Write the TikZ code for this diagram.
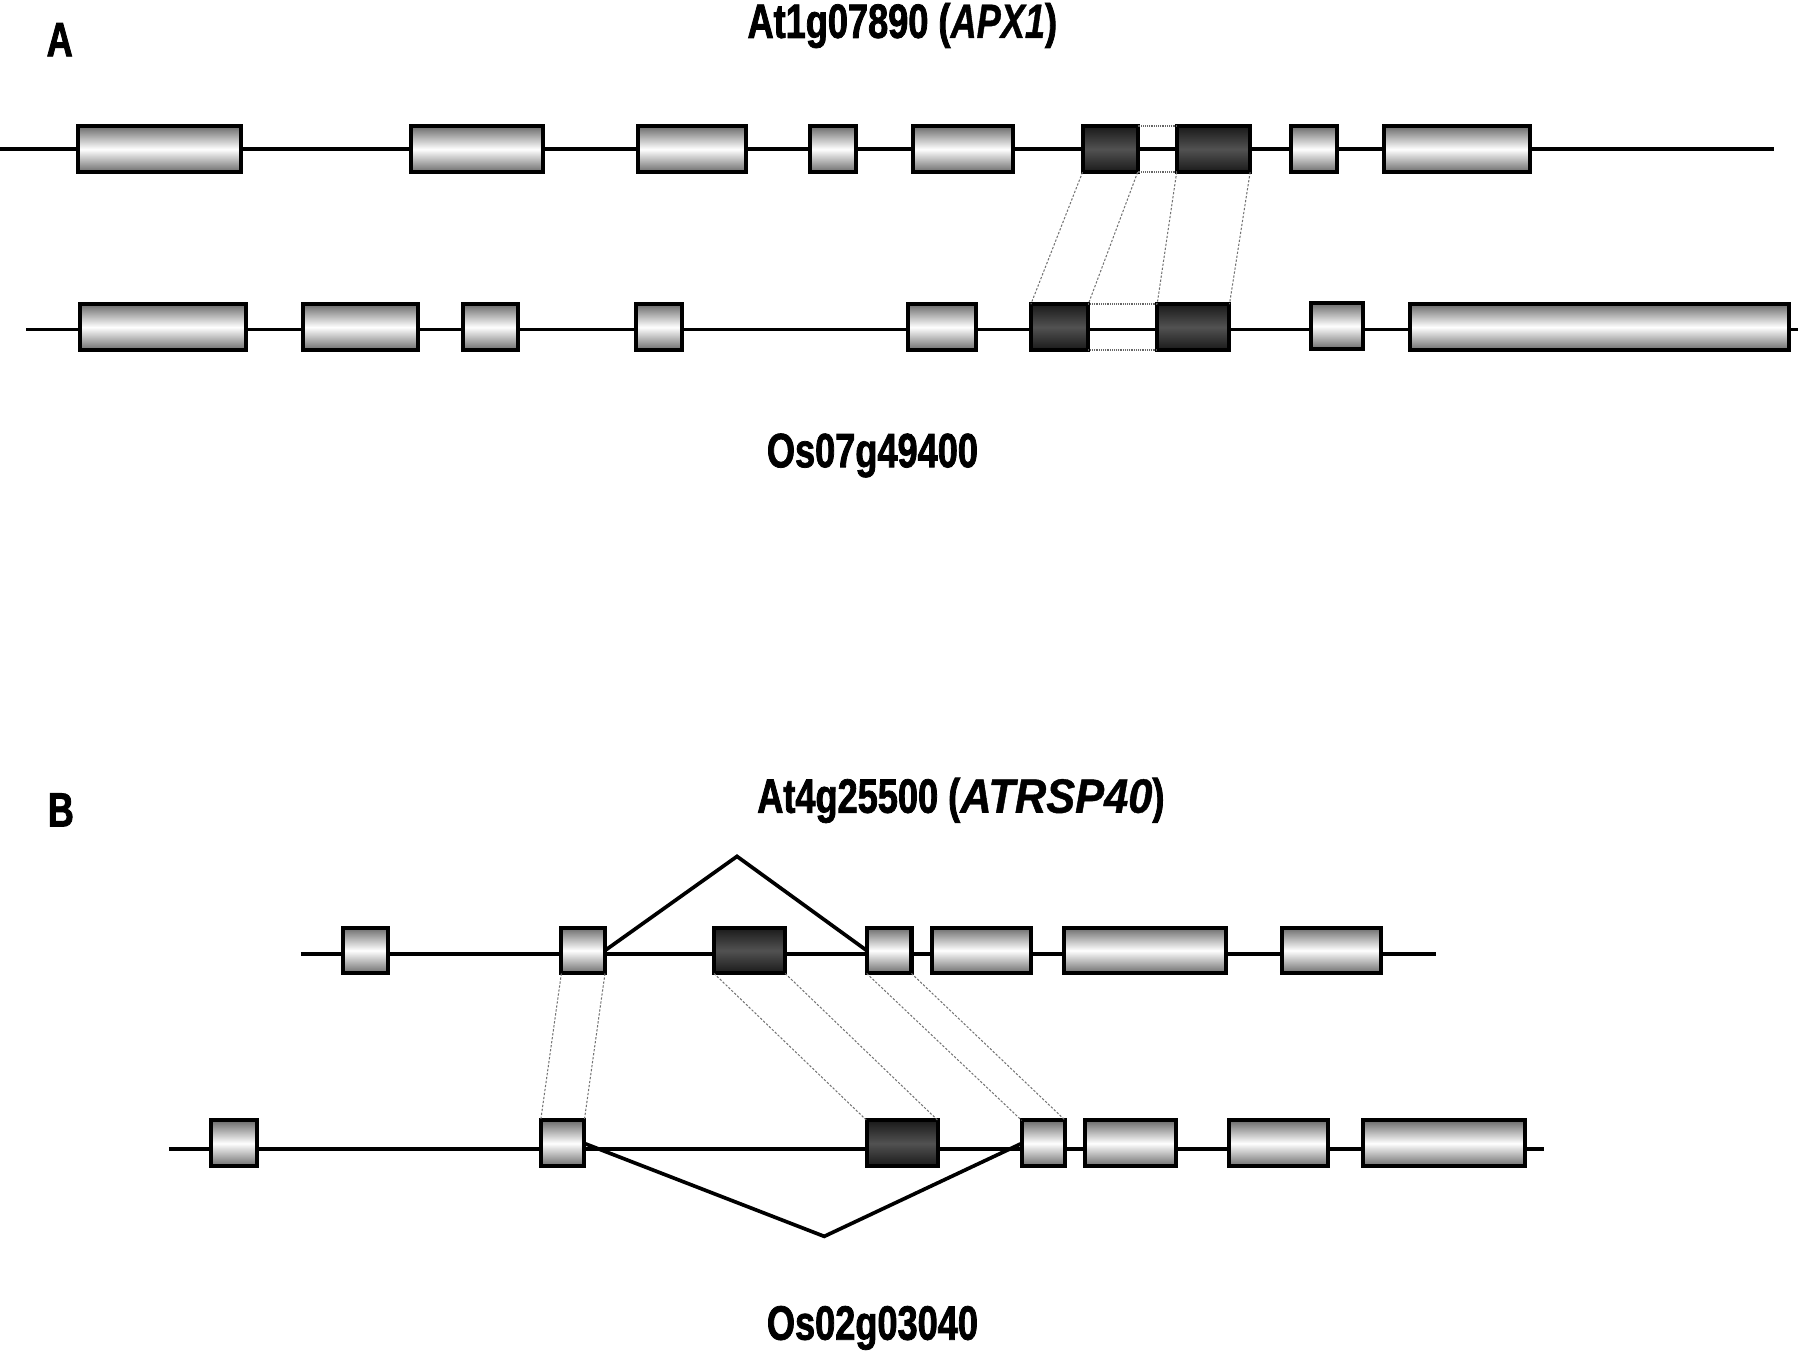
\documentclass[tikz,border=0pt]{standalone}
\usepackage{fontspec}
\usepackage{graphicx}
\newfontfamily\labfont[FakeStretch=0.75, BoldFeatures={FakeBold=1.6}, BoldItalicFeatures={FakeBold=0.8}]{Liberation Sans}
\begin{document}
\begin{tikzpicture}[x=1pt,y=-1pt,
 exon/.style={draw=black, line width=3.5pt, rectangle, inner sep=0pt, outer sep=0pt, anchor=north west, minimum height=40pt, top color=black!58, bottom color=black!58, middle color=white},
 dexon/.style={exon, top color=black!90, bottom color=black!90, middle color=black!68},
 intron/.style={line width=3.4pt, line cap=butt},
 splice/.style={line width=3.2pt, line join=miter},
 hom/.style={black!55, line width=0.9pt, dash pattern=on 2pt off 1.5pt},
 homh/.style={black!60, line width=1.6pt, dash pattern=on 0.8pt off 0.8pt},
 lab/.style={font=\labfont\bfseries\fontsize{42}{44}\selectfont, inner sep=0pt, anchor=base}]
\useasboundingbox (0,0) rectangle (1568,1178);

% ---------- Panel A ----------
\coordinate (A1s) at (0,130);   \coordinate (A1e) at (1545,130);
\coordinate (A2s) at (23,287);  \coordinate (A2e) at (1566,287);
\draw[intron] (A1s) -- (A1e);
\draw[intron] (A2s) -- (A2e);

\node[exon, minimum width=142pt] (a1) at (68,110) {};
\node[exon, minimum width=115pt] (a2) at (358,110) {};
\node[exon, minimum width=94pt]  (a3) at (556,110) {};
\node[exon, minimum width=40pt]  (a4) at (706,110) {};
\node[exon, minimum width=87pt]  (a5) at (795,110) {};
\node[dexon, minimum width=48pt] (a6) at (943,110) {};
\node[dexon, minimum width=64pt] (a7) at (1025,110) {};
\node[exon, minimum width=40pt]  (a8) at (1125,110) {};
\node[exon, minimum width=127pt] (a9) at (1206,110) {};

\node[exon, minimum width=144pt] (b1) at (70,265) {};
\node[exon, minimum width=100pt] (b2) at (264,265) {};
\node[exon, minimum width=48pt]  (b3) at (403,265) {};
\node[exon, minimum width=40pt]  (b4) at (554,265) {};
\node[exon, minimum width=59pt]  (b5) at (791,265) {};
\node[dexon, minimum width=50pt] (b6) at (898,265) {};
\node[dexon, minimum width=63pt] (b7) at (1008,265) {};
\node[exon, minimum width=45pt]  (b8) at (1142,264) {};
\node[exon, minimum width=330pt] (b9) at (1228,265) {};

\draw[homh] (a6.north east) -- (a7.north west);
\draw[homh] (a6.south east) -- (a7.south west);
\draw[homh] (b6.north east) -- (b7.north west);
\draw[homh] (b6.south east) -- (b7.south west);
\draw[hom] (a6.south west) -- (b6.north west);
\draw[hom] (a6.south east) -- (b6.north east);
\draw[hom] (a7.south west) -- (b7.north west);
\draw[hom] (a7.south east) -- (b7.north east);

\node[lab] (lA)  at (52,49)   {A};
\node[lab] (tA1) at (786,33)  {At1g07890 (\textit{APX1})};
\node[lab] (tA2) at (760,407) {Os07g49400};

% ---------- Panel B ----------
\coordinate (B1s) at (262,831);  \coordinate (B1e) at (1251,831);
\coordinate (B2s) at (147,1001); \coordinate (B2e) at (1345,1001);
\draw[intron] (B1s) -- (B1e);
\draw[intron] (B2s) -- (B2e);

\node[exon, minimum width=39pt]  (c1) at (299,808) {};
\node[exon, minimum width=38pt]  (c2) at (489,808) {};
\node[dexon, minimum width=62pt] (c3) at (622,808) {};
\node[exon, minimum width=39pt]  (c4) at (755,808) {};
\node[exon, minimum width=86pt]  (c5) at (812,808) {};
\node[exon, minimum width=141pt] (c6) at (927,808) {};
\node[exon, minimum width=86pt]  (c7) at (1117,808) {};

\node[exon, minimum width=40pt]  (d1) at (184,976) {};
\node[exon, minimum width=38pt]  (d2) at (471,976) {};
\node[dexon, minimum width=62pt] (d3) at (755,976) {};
\node[exon, minimum width=38pt]  (d4) at (890,976) {};
\node[exon, minimum width=79pt]  (d5) at (945,976) {};
\node[exon, minimum width=86pt]  (d6) at (1071,976) {};
\node[exon, minimum width=141pt] (d7) at (1187,976) {};

\coordinate (capex) at (642,746);
\coordinate (dapex) at (718,1077);
\draw[splice] (c2.east) -- (capex) -- (c4.west);
\draw[splice] (d2.east) -- (dapex) -- (d4.west);

\draw[hom] (c2.south west) -- (d2.north west);
\draw[hom] (c2.south east) -- (d2.north east);
\draw[hom] (c3.south west) -- (d3.north west);
\draw[hom] (c3.south east) -- (d3.north east);
\draw[hom] (c4.south west) -- (d4.north west);
\draw[hom] (c4.south east) -- (d4.north east);

\node[lab] (lB)  at (53,720)   {B};
\node[lab] (tB1) at (837,708)  {At4g25500 (\scalebox{1.2}[1]{\itshape ATRSP40})};
\node[lab] (tB2) at (760,1167) {Os02g03040};
\end{tikzpicture}
\end{document}
